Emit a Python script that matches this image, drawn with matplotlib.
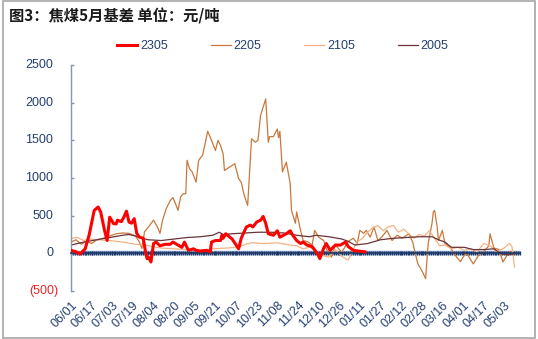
import datetime as dt
import matplotlib
matplotlib.use("Agg")
import matplotlib.pyplot as plt
from matplotlib.ticker import MultipleLocator, FixedLocator, NullFormatter
from matplotlib.transforms import blended_transform_factory, ScaledTranslation
from matplotlib.patches import Rectangle

# Basis of the May coking-coal contracts, day offsets counted from 06/01
base_date = dt.date(2022, 6, 1)

d2305 = [0, 4, 7, 11, 14, 18, 21, 23, 26, 28, 30, 33, 35, 36, 39, 41, 43, 45, 47, 49,
         51, 53, 56, 58, 59, 60, 62, 64, 66, 69, 73, 77, 79, 82, 86, 88, 91, 95, 97, 100,
         105, 108, 109, 112, 116, 117, 118, 120, 125, 130, 132, 136, 139, 141, 144, 147,
         149, 151, 153, 157, 160, 162, 167, 170, 172, 175, 178, 180, 183, 187, 191, 193,
         196, 198, 201, 205, 209, 213, 215, 219, 223, 228]
v2305 = [40, 20, -10, 60, 240, 570, 615, 550, 305, 170, 480, 395, 390, 440, 420, 480, 560, 415, 400, 460,
         265, 215, 200, 0, -70, -50, -115, 130, 150, 100, 120, 120, 150, 120, 80, 150, 40, 60, 40, 30,
         40, 20, 150, 170, 170, 240, 200, 260, 190, 60, 200, 350, 375, 350, 415, 440,
         490, 400, 260, 240, 300, 215, 260, 300, 240, 170, 130, 150, 110, 90, 0, -70,
         70, 130, 40, 110, 110, 150, 90, 40, 30, 20]

d2205 = [0, 4, 8, 12, 16, 20, 25, 30, 35, 40, 45, 50, 53, 55, 57, 60, 64, 67, 69, 71,
         74, 77, 79, 81, 83, 85, 87, 89, 90, 92, 94, 97, 99, 102, 104, 106, 109, 112, 114, 116,
         118, 119, 123, 127, 130, 132, 134, 137, 140, 143, 145, 147, 149, 151, 153, 154, 157, 160,
         161, 162, 164, 167, 170, 171, 174, 175, 178, 180, 184, 187, 189, 192, 196, 198, 202, 205,
         210, 214, 216, 219, 222, 224, 227, 229, 232, 235, 238, 241, 245, 249, 253, 257, 262, 265,
         267, 269, 272, 275, 277, 280, 281, 282, 284, 285, 288, 290, 294, 299, 302, 306, 308, 312,
         316, 320, 324, 325, 328, 332, 335, 338, 341, 344]
v2205 = [150, 180, 120, 160, 130, 180, 200, 230, 260, 270, 265, 230, 150, 65, 285, 350, 440, 350, 265, 440,
         600, 700, 740, 660, 570, 750, 790, 790, 1235, 1120, 1080, 945, 1235, 1300, 1455, 1620, 1500, 1365, 1500, 1430,
         1320, 1100, 1145, 1190, 990, 945, 790, 635, 1520, 1475, 1500, 1830, 1940, 2050, 1475, 1550, 1550, 1650,
         1535, 1620, 1080, 1210, 925, 570, 400, 550, 305, 170, 150, 110, 305, 215, 170, 60, -50, 110,
         15, 130, 170, 200, 130, 305, 265, 305, 215, 350, 170, 215, 305, 170, 240, 200, 260, 150,
         0, -140, -225, -335, 130, 400, 550, 570, 350, 170, 305, 130, 80, -50, -110, 0, -30, -140,
         -30, 20, 100, 260, 70, 50, -115, -30, 30, -20]

d2105 = [0, 5, 10, 15, 20, 30, 40, 50, 60, 70, 80, 90, 100, 110, 120, 130, 135, 140, 150, 160,
         170, 175, 180, 185, 190, 195, 200, 205, 210, 215, 218, 222, 226, 230, 234, 238, 242, 246, 250, 254,
         258, 262, 266, 270, 274, 278, 282, 286, 290, 295, 300, 305, 310, 315, 320, 325, 330, 335, 340, 342, 344]
v2105 = [200, 210, 170, 190, 180, 170, 150, 120, 100, 70, 60, 50, 40, 60, 70, 80, 120, 140, 130, 140,
         110, 100, 60, 80, 30, -30, -50, 50, -40, -90, 20, 150, 200, 280, 340, 370, 300, 350, 370, 280,
         320, 260, 200, 250, 230, 300, 200, 100, 110, 60, 80, 40, 60, 20, 130, 100, 20, 60, 130, 90, -180]

d2005 = [0, 10, 20, 30, 40, 45, 50, 55, 60, 70, 80, 90, 100, 110, 115, 118, 125, 135, 145, 155,
         165, 175, 185, 190, 200, 210, 215, 220, 225, 230, 240, 250, 260, 270, 280, 285, 290, 295, 305, 312,
         320, 328, 333, 338, 344]
v2005 = [110, 150, 180, 210, 240, 250, 230, 200, 180, 170, 190, 210, 220, 240, 280, 250, 260, 270, 280, 280,
         270, 240, 220, 240, 220, 190, 160, 110, 120, 130, 180, 200, 210, 220, 220, 180, 150, 80, 80, 50,
         50, 60, 0, -20, -10]

series = [
    ("2305", d2305, v2305, "#FF0000", 2.2),
    ("2205", d2205, v2205, "#C8783C", 0.9),
    ("2105", d2105, v2105, "#F4B183", 0.9),
    ("2005", d2005, v2005, "#6B3438", 0.9),
]

y_ticks = [-500, 0, 500, 1000, 1500, 2000, 2500]
x_ticks = list(range(0, 337, 16))
x_labels = [(base_date + dt.timedelta(days=k)).strftime("%m/%d") for k in x_ticks]

navy = "#1F3864"
text_col = "#243F72"

plt.rcParams["font.family"] = ["Liberation Sans", "DejaVu Sans"]

fig = plt.figure(figsize=(5.38, 3.39), dpi=100)
ax = fig.add_axes([0.132, 0.1416, 0.834, 0.6666])

for name, d, v, c, lw in series:
    ax.plot(d, v, color=c, lw=lw, label=name, zorder=3 if name == "2305" else 2.5)

ax.set_xlim(0, 348)
ax.set_ylim(-500, 2500)

# category axis drawn through zero with a dense row of ticks
ax.set_axisbelow(True)
for s in ("top", "right"):
    ax.spines[s].set_visible(False)
ax.spines["bottom"].set_position(("data", 0))
ax.spines["bottom"].set_color(navy)
ax.spines["bottom"].set_linewidth(1.2)
ax.axhline(0, color="#8FAADC", lw=3.2, zorder=0.3)
ax.xaxis.set_major_locator(FixedLocator(x_ticks))
ax.xaxis.set_minor_locator(MultipleLocator(1.5))
ax.xaxis.set_major_formatter(NullFormatter())
ax.tick_params(axis="x", which="both", direction="inout", length=3.4, width=0.95, color=navy)

# value axis
ax.spines["left"].set_color("#8497B0")
ax.spines["left"].set_linewidth(1.0)
ax.set_yticks(y_ticks)
ax.set_yticklabels([])
ax.tick_params(axis="y", direction="in", length=2.5, width=1.0, color="#8497B0")
ytrans = blended_transform_factory(ax.transAxes, ax.transData) + ScaledTranslation(-18 / 100, 0, fig.dpi_scale_trans)
for v in y_ticks:
    if v < 0:
        ax.text(0, v, f"({abs(v)})", transform=ytrans + ScaledTranslation(5 / 100, 0, fig.dpi_scale_trans),
                ha="right", va="center", fontsize=9, color="#E8262A")
    else:
        ax.text(0, v, f"{v}", transform=ytrans, ha="right", va="center", fontsize=9, color=text_col)

# date labels along the lower edge of the plot
sec = ax.secondary_xaxis("bottom")
sec.spines["bottom"].set_visible(False)
sec.set_xticks(x_ticks)
sec.set_xticklabels(x_labels, rotation=45, ha="right", va="top", rotation_mode="anchor",
                    fontsize=9, color=text_col)
sec.tick_params(axis="x", length=0, pad=6)

leg = fig.legend(loc="center", bbox_to_anchor=(0.526, 0.864), ncol=4, frameon=False,
                 fontsize=9, handlelength=1.6, handletextpad=0.25, columnspacing=3.4)
for t in leg.get_texts():
    t.set_color(text_col)

fig.text(0.016, 0.953, "图3：焦煤5月基差 单位：元/吨", ha="left", va="center", fontsize=11,
         fontweight="bold", family=["Noto Sans CJK SC", "DejaVu Sans"], color="#1a1a1a")

fig.patches.append(Rectangle((0.005, 0.003), 0.99, 0.994, transform=fig.transFigure,
                             fill=False, edgecolor="#A6A6A6", lw=1.2))

fig.savefig("out.png", dpi=100)
